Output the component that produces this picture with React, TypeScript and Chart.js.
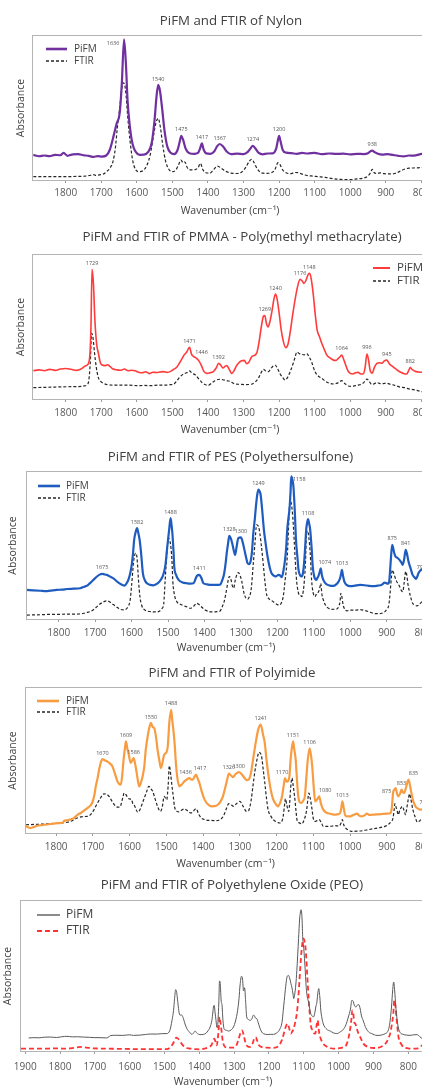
import React, { useEffect, useRef } from "react";
import { Chart, registerables } from "chart.js";

Chart.register(...registerables);

const FONT = "'Open Sans', 'DejaVu Sans', sans-serif";
Chart.defaults.font.family = FONT;

type Pt = [number, number];

// ---------------- DATA (wavenumber cm-1, relative absorbance) ----------------
const ticks1800 = [1800, 1700, 1600, 1500, 1400, 1300, 1200, 1100, 1000, 900, 800];
const ticks1900 = [1900, 1800, 1700, 1600, 1500, 1400, 1300, 1200, 1100, 1000, 900, 800];

// Nylon
const nylonPifm: Pt[] = [
  [1891,17.4],[1875,16.5],[1860,17.0],[1845,16.6],[1830,17.5],[1815,17.2],[1806,18.8],[1795,16.8],[1780,17.8],[1765,17.9],
  [1750,17.2],[1735,16.8],[1722,16.0],[1710,16.6],[1698,16.3],[1686,17.0],[1676,21],[1665,31],[1657,39],[1648,47],
  [1642,68],[1636,97.7],[1631,82],[1626,55],[1620,38],[1612,25],[1603,19.5],[1592,17.5],[1580,17.6],[1568,19.5],
  [1558,26],[1550,42],[1545,57],[1540,66],[1535,62],[1529,50],[1522,34],[1514,23],[1505,19],[1495,18],
  [1486,20.5],[1480,26],[1475,30.6],[1470,28],[1463,22],[1452,18.6],[1438,18.2],[1428,18.8],[1422,22],[1417,25.5],
  [1412,21],[1405,18.5],[1393,18.2],[1382,20],[1374,23.5],[1367,25],[1358,23.5],[1348,20],[1335,18],[1318,18.3],
  [1300,18],[1288,19.5],[1280,22],[1274,23.8],[1267,22],[1258,19],[1246,17.8],[1232,18.4],[1218,18.5],[1208,22],
  [1203,28],[1200,30.6],[1196,27],[1190,21],[1180,19],[1165,18.6],[1150,18.2],[1135,18.8],[1120,18.4],[1100,18.8],
  [1080,18.0],[1060,18.4],[1040,18.1],[1020,18.3],[1000,17.8],[980,18.2],[962,18.0],[950,18.6],[943,20],[938,20.4],
  [932,19.5],[922,18.2],[910,17.6],[895,18],[880,17.4],[865,16.8],[850,16.4],[835,17.0],[820,16.9],[805,17.8],
  [790,18.6],[784,18.8],
];
const nylonFtir: Pt[] = [
  [1891,2.3],[1860,2.3],[1830,2.4],[1800,2.3],[1770,2.5],[1745,2.7],[1730,3.3],[1722,3.8],[1715,3.2],[1705,3.6],
  [1695,4.0],[1685,5.8],[1675,8.5],[1667,13],[1660,23],[1655,36],[1649,48],[1643,62],[1639,67.5],[1635,67],
  [1630,58],[1625,42],[1619,27],[1612,14],[1603,7],[1594,5.8],[1583,6.5],[1572,10],[1562,18],[1553,31],
  [1546,40],[1540,42.8],[1534,37],[1527,24],[1519,13],[1510,7.5],[1500,5.8],[1490,7],[1482,11],[1476,13.9],
  [1470,12],[1465,12.5],[1458,8.5],[1448,7],[1436,7.2],[1428,8.5],[1421,11.6],[1415,7.5],[1405,5.0],[1395,4.7],
  [1385,7],[1373,9.7],[1362,8],[1350,6],[1335,4.8],[1318,4.5],[1305,5.5],[1293,9],[1284,13],[1277,14.4],
  [1270,12],[1262,8],[1250,5],[1235,4.6],[1222,5],[1212,7],[1203,12],[1198,11],[1190,7],[1180,5],
  [1168,4.4],[1155,5.2],[1145,5.0],[1130,3.6],[1110,2.8],[1090,2.3],[1070,1.8],[1050,1.0],[1030,0.5],[1010,0.2],
  [995,0.3],[980,0.8],[965,1.2],[950,2.8],[943,5],[938,7.4],[933,5.2],[925,4.5],[915,5.0],[905,4.4],
  [890,4.2],[875,4.5],[862,5.8],[848,7.5],[835,8.2],[815,8.4],[800,8.7],[784,9],
];
const nylonPeakText = ["1636", "1540", "1475", "1417", "1367", "1274", "1200", "938"];
const nylonPeakAt = [1636, 1540, 1475, 1417, 1367, 1274, 1200, 938];

// PMMA
const pmmaPifm: Pt[] = [
  [1891,19.7],[1875,20.2],[1860,19.6],[1845,20.6],[1830,19.9],[1815,20.8],[1800,21.2],[1785,20.6],[1770,19.9],[1757,20.8],
  [1748,22.5],[1740,23.5],[1733,28],[1729,50],[1726,90],[1722,80],[1718,55],[1713,38],[1708,31.7],[1703,25.5],
  [1698,23.6],[1690,23.2],[1682,23.8],[1675,22.5],[1668,21.0],[1656,20.2],[1645,20.0],[1635,20.8],[1625,19.6],[1615,20.0],
  [1605,19.6],[1595,18.6],[1585,18.2],[1575,18.9],[1565,17.6],[1555,18.6],[1545,18.4],[1535,18.7],[1525,19.0],[1515,18.5],
  [1505,19.2],[1497,20.5],[1488,22],[1480,25],[1474,27.5],[1466,31],[1460,32.5],[1452,35.9],[1446,31],[1440,29.5],
  [1432,28.2],[1424,26],[1418,23],[1411,19],[1403,17.8],[1395,18.2],[1385,19],[1377,21.5],[1370,24.8],[1364,23.5],
  [1358,21.5],[1351,22.8],[1347,23.2],[1340,20.5],[1333,17.8],[1327,19.5],[1320,23],[1313,25.2],[1305,26.5],[1298,26.8],
  [1291,24.5],[1285,25.5],[1277,29.4],[1268,30.5],[1262,32.5],[1256,40],[1250,50],[1244,57.5],[1240,58],[1236,53],
  [1231,50],[1226,53.5],[1220,61],[1214,70],[1210,72.9],[1206,70],[1200,60],[1194,48],[1188,40],[1181,35.6],
  [1175,38],[1169,46],[1162,58],[1155,69],[1148,78],[1141,83.1],[1135,82],[1130,80.3],[1125,82],[1119,86],
  [1115,87.3],[1110,84],[1104,73],[1098,58],[1093,48],[1086,43],[1080,38.7],[1073,34.5],[1066,30.6],[1057,28.5],
  [1047,27],[1040,26.8],[1034,28],[1028,29.5],[1024,30.6],[1019,28],[1013,23.8],[1007,19.8],[1000,17.8],[992,17.4],
  [985,18.3],[978,18.5],[970,17.4],[963,17.6],[958,22],[953,31.3],[949,28],[944,20],[938,18],[932,22],
  [925,24.8],[918,25.2],[911,24.8],[904,26.5],[897,27],[890,24.5],[882,22.8],[875,21.5],[866,19.8],[858,18.6],
  [848,17.6],[841,17.4],[836,19.5],[831,21.8],[826,20.5],[818,19.3],[808,18.8],[798,18.6],[784,18.8],
];
const pmmaFtir: Pt[] = [
  [1891,7.9],[1860,8.1],[1830,8.3],[1800,8.5],[1770,8.6],[1750,9],[1740,10],[1735,13],[1731,25],[1727,45.6],
  [1723,42],[1719,32],[1714,22],[1709,15.5],[1703,12.5],[1694,10.9],[1680,9.8],[1660,9.6],[1640,9.7],[1620,9.6],
  [1600,9.3],[1580,9.4],[1560,9.3],[1540,9.6],[1520,9.6],[1505,10.0],[1497,10.2],[1488,12.5],[1478,15.5],[1468,17.5],
  [1460,18.2],[1452,19.5],[1445,18],[1436,16.8],[1426,14],[1415,11],[1405,9.7],[1399,9.5],[1390,11],[1380,12.7],
  [1367,13.7],[1355,13.2],[1345,12.6],[1338,12.3],[1325,10.5],[1310,10.2],[1295,10.0],[1280,10.2],[1268,11.6],[1258,14.5],
  [1250,18.5],[1244,20.6],[1236,19.3],[1230,19],[1222,21.5],[1211,23.6],[1204,21],[1197,17.4],[1190,15],[1183,13.2],
  [1176,15],[1168,19.5],[1160,25],[1155,29],[1150,32.6],[1143,31.5],[1136,31],[1129,30.7],[1122,31.5],[1116,29.5],
  [1109,26],[1099,19],[1090,16],[1080,14.4],[1070,12.4],[1060,11.1],[1047,10.4],[1036,11],[1030,12],[1024,12.7],
  [1016,11],[1005,9],[995,8.8],[985,9.3],[975,9.8],[965,10.8],[958,12.5],[953,13.9],[947,12.5],[940,10.2],
  [933,10.5],[925,11.4],[918,10.8],[911,10.5],[903,10.9],[897,10.9],[887,10.2],[875,9.5],[860,8.3],[845,7.8],
  [835,7.0],[822,6.5],[810,5.8],[798,5.1],[784,4.6],
];
const pmmaPeakText = ["1729", "1471", "1446", "1392", "1269", "1240", "1176", "1148", "1064", "996", "945", "882"];
const pmmaPeakAt = [1726, 1452, 1432, 1370, 1240, 1210, 1141, 1115, 1024, 953, 897, 831];

// PES
const pesPifm: Pt[] = [
  [1887,19.8],[1870,19.5],[1850,19.2],[1835,19.0],[1823,19.3],[1805,19.8],[1790,20.0],[1777,20.4],[1760,20.6],[1741,20.9],
  [1730,22.0],[1722,22.7],[1715,24.2],[1709,25.5],[1702,27.3],[1695,28.9],[1688,30.2],[1681,30.7],[1675,30.4],[1668,30.0],
  [1660,29],[1649,27.5],[1640,25.5],[1631,23.9],[1620,22.7],[1612,25],[1608,27.3],[1603,32],[1599,38],[1596,45],
  [1593,53.9],[1589,59],[1585,61.8],[1582,59],[1578,53.9],[1574,45],[1569,31],[1563,26],[1558,24.3],[1549,23.2],
  [1540,22.9],[1532,23.7],[1526,24.8],[1519,27],[1512,31],[1507,37],[1503,47],[1500,54],[1497,60.7],[1493,68.6],
  [1490,63],[1488,58],[1485,46],[1483,35.7],[1478,30],[1471,26.6],[1460,24.8],[1448,24.3],[1439,24.1],[1430,24.3],
  [1425,27],[1421,29.3],[1414,30],[1408,27.5],[1403,24.3],[1393,23.6],[1384,23.2],[1370,23.2],[1357,23.4],[1351,26.6],
  [1346,31],[1342,38],[1339,44.8],[1335,52],[1332,56.6],[1328,55],[1324,51.6],[1320,47],[1316,43.6],[1312,49],
  [1307,55],[1300,55.5],[1296,53],[1291,47.7],[1286,42],[1282,38],[1278,37.3],[1275,38],[1270,45],[1266,58.4],
  [1262,68],[1258,78.9],[1255,85],[1252,88],[1249,87],[1246,84.5],[1242,75],[1237,60.7],[1232,51],[1227,42.5],
  [1221,35],[1216,31.1],[1210,29.5],[1206,28.9],[1201,29.5],[1197,30],[1192,29.5],[1188,28.4],[1184,32],[1179,40.2],
  [1176,48],[1173,60.7],[1170,68],[1167,74.3],[1164,86],[1162,97],[1159,95],[1156,90],[1152,72],[1149,53.9],
  [1145,42],[1142,33.4],[1137,29.5],[1133,28.9],[1130,31],[1127,37.3],[1124,48],[1121,60.7],[1118,66],[1116,68],
  [1113,65],[1110,60.7],[1106,48],[1103,35.7],[1099,29],[1093,26.6],[1090,28],[1087,29.5],[1084,32],[1081,34.5],
  [1078,30],[1074,26.6],[1066,23.8],[1056,22.7],[1046,22.5],[1037,23.9],[1032,25.5],[1028,27.7],[1025,31],[1023,33.4],
  [1020,29.5],[1016,25.2],[1010,23.2],[1001,22.3],[990,22.5],[973,23.2],[955,22.8],[937,22.3],[925,22.7],[914,23.2],
  [908,24.5],[905,24.8],[900,24.2],[896,24.1],[893,26],[890,35.7],[888,43],[885,50.5],[882,48],[879,44.5],
  [876,42.5],[870,41.5],[865,40.2],[860,38.5],[856,36.8],[852,41],[848,47],[845,45],[841,40],[839,38],
  [834,34],[829,30],[824,28.4],[820,27.3],[816,29],[813,31.1],[806,33.4],[798,34],[795,34],
];
const pesFtir: Pt[] = [
  [1887,2.7],[1860,2.8],[1830,3.1],[1800,3.2],[1770,3.3],[1745,3.4],[1731,3.9],[1722,4.5],[1712,5.2],[1703,6.6],
  [1695,8.4],[1688,10],[1681,11.1],[1674,12],[1667,12.3],[1660,11.6],[1650,9.8],[1640,8.0],[1631,6.6],[1622,6.2],
  [1612,7.5],[1604,13],[1600,23],[1597,32],[1595,38],[1592,43],[1589,44.8],[1587,44.5],[1584,38],[1581,26],
  [1577,15],[1572,9],[1565,6.4],[1558,5.5],[1545,4.9],[1531,4.8],[1524,5.3],[1517,7.0],[1512,10],[1508,26],
  [1504,42],[1501,52],[1499,55],[1495,53],[1492,48.5],[1489,38],[1487,26],[1482,16],[1476,11.8],[1466,10],
  [1458,9.1],[1448,8.2],[1439,7.3],[1430,8.6],[1421,10.7],[1416,10],[1412,9.1],[1405,7.5],[1398,6.1],[1387,5.0],
  [1375,4.8],[1365,5.0],[1357,5.5],[1352,8],[1347,11],[1343,15.2],[1338,22],[1335,26.5],[1332,28.9],[1328,27.5],
  [1323,22],[1320,21],[1316,26],[1311,30.3],[1307,31.6],[1303,30],[1298,26],[1292,18],[1286,14.1],[1281,13.5],
  [1277,15.2],[1272,20],[1266,38],[1262,50],[1257,64],[1252,63],[1248,58],[1244,50],[1239,38],[1234,25],
  [1229,16.1],[1224,14],[1220,13],[1213,12],[1206,10.7],[1200,9.8],[1194,9.5],[1189,11],[1184,15.2],[1179,26],
  [1174,38],[1170,58],[1167,76.6],[1164,80],[1162,78.9],[1158,70],[1154,54],[1151,40],[1147,25.2],[1143,18.6],
  [1140,16.4],[1137,16.2],[1133,15.2],[1129,19],[1126,26.1],[1123,38],[1120,58.4],[1117,60],[1114,56],[1110,45],
  [1106,26],[1102,18],[1097,15.2],[1092,17.5],[1087,18.6],[1083,22],[1081,24.3],[1078,17],[1074,13],[1067,9],
  [1060,7.3],[1050,6.6],[1037,6.8],[1031,9],[1028,12],[1026,17.5],[1023,15],[1020,10],[1017,7.5],[1009,5.5],
  [1001,6.1],[985,6.1],[973,6.4],[960,5.8],[950,5.0],[937,3.9],[925,3.6],[914,3.9],[905,5.0],[900,6.6],
  [894,10],[889,23],[887,29],[885,33.4],[882,32],[878,29],[874,26.1],[869,24],[865,22.3],[860,19.5],
  [856,18.6],[852,25],[848,32.3],[845,30],[842,24],[839,20],[834,14.5],[829,10.7],[823,9.6],[818,8.9],
  [812,9.5],[806,11.1],[800,12.5],[795,13],
];
const pesPeakText = ["1675", "1582", "1488", "1411", "1328", "1300", "1249", "1158", "1108", "1074", "1013", "875", "841", "795"];
const pesPeakAt = [1681, 1585, 1493, 1414, 1332, 1300, 1252, 1162, 1116, 1081, 1023, 885, 848, 813];

// Polyimide
const piPifm: Pt[] = [
  [1882,4.6],[1870,3.4],[1860,4.2],[1852,5.0],[1835,5.5],[1815,6.2],[1795,6.8],[1784,6.9],[1777,8.5],[1770,8.7],
  [1760,9.5],[1752,10.3],[1742,12.5],[1733,13.8],[1724,15.5],[1715,17.2],[1702,20.7],[1696,26],[1692,32.2],[1687,38],
  [1683,43.7],[1678,49],[1674,51],[1667,50],[1661,49.4],[1654,48],[1647,46],[1640,41],[1633,35.6],[1627,33.5],
  [1624,33.3],[1620,40],[1617,49],[1613,58],[1610,63.2],[1606,58],[1603,55],[1597,48.3],[1593,50],[1589,51.7],
  [1586,49],[1583,45],[1578,37],[1574,32.2],[1569,35],[1565,38.6],[1560,46],[1556,57.5],[1550,68],[1545,74],
  [1542,75.9],[1537,73],[1533,72.4],[1528,66],[1524,57.5],[1519,50],[1515,44.8],[1511,48],[1506,54],[1500,55.5],
  [1496,60],[1492,75.9],[1487,85],[1484,78],[1480,69],[1477,60],[1474,48.3],[1470,38],[1465,32.2],[1458,33.5],
  [1451,35.6],[1444,37],[1437,37.9],[1432,36.8],[1428,36.8],[1423,39],[1419,40.2],[1414,37],[1410,34.5],[1403,28],
  [1396,23],[1387,19.8],[1378,18.4],[1369,18.5],[1360,19.5],[1352,22],[1346,25.3],[1339,32],[1333,38.5],[1330,40.9],
  [1325,40],[1319,38.6],[1312,40.5],[1303,42],[1295,40.5],[1287,37.9],[1281,36.5],[1276,36.8],[1270,41],[1264,50.6],
  [1257,62],[1250,71.3],[1243,74.7],[1237,68],[1232,62],[1228,52],[1223,41.4],[1216,30],[1209,23],[1202,20],
  [1196,18.4],[1190,21],[1185,25.3],[1181,32],[1177,37.9],[1173,35.5],[1170,35.6],[1165,39],[1162,50],[1159,57.5],
  [1155,63.2],[1152,58],[1148,50.6],[1144,35],[1141,25.3],[1136,21],[1132,20.7],[1127,22.5],[1123,25.3],[1119,38],
  [1115,50.6],[1110,58.4],[1106,53],[1103,46],[1099,32],[1095,21.8],[1090,23],[1084,25.3],[1079,20],[1073,16.1],
  [1064,14],[1054,13.3],[1047,12.8],[1041,12.6],[1033,13],[1027,13.8],[1024,17],[1021,21.8],[1017,17],[1013,12.1],
  [1006,11.5],[1000,11.5],[990,12.6],[981,13.3],[975,12],[968,11.5],[960,12.2],[954,13.3],[947,12.4],[940,12.6],
  [925,12.9],[913,13.1],[900,13.3],[890,13.8],[886,18],[883,27.6],[879,30],[876,31],[872,27],[869,25.3],
  [864,27],[860,29.9],[856,28],[853,27.6],[848,31],[844,35],[841,36.8],[837,33],[833,27.6],[828,22],
  [822,18.4],[815,16.8],[808,16.1],[798,17.2],[796,17.5],
];
const piFtir: Pt[] = [
  [1882,5.7],[1860,5.9],[1840,6.1],[1815,6.4],[1790,6.9],[1770,7.4],[1755,8.6],[1743,10.3],[1728,11.3],[1715,11.5],
  [1705,13],[1697,16],[1690,19.5],[1683,22.5],[1676,25.5],[1670,27],[1663,26.8],[1656,25.3],[1648,22],[1638,18.4],
  [1630,17.8],[1626,18],[1621,22],[1617,26],[1615,27.6],[1610,26.5],[1606,24.8],[1601,23.5],[1597,23.4],[1595,23.2],
  [1591,20],[1588,19.5],[1583,16.6],[1578,14.3],[1572,16],[1565,20.7],[1558,25.5],[1553,29],[1548,32.2],[1542,30.5],
  [1537,28.7],[1530,23],[1524,18.4],[1516,14.9],[1511,18],[1506,25.3],[1502,24],[1499,23],[1495,33],[1492,46.4],
  [1488,40],[1485,33],[1481,25],[1478,18.4],[1471,14.9],[1465,14.5],[1458,15.8],[1451,16.6],[1443,15.5],[1433,13.8],
  [1426,15.2],[1419,16.8],[1412,13],[1405,10.3],[1395,9.2],[1385,8.7],[1378,8.7],[1365,8.5],[1351,9.7],[1344,12],
  [1337,16.5],[1330,20.2],[1323,19.3],[1317,18.4],[1310,20],[1300,21.8],[1291,18.4],[1282,14.9],[1276,15.5],[1269,23],
  [1264,33],[1259,42.5],[1253,51],[1248,55.6],[1241,53],[1236,43],[1232,34.5],[1227,23],[1223,16],[1216,11.8],
  [1209,9.2],[1200,7.6],[1191,6.9],[1185,8.5],[1182,11.5],[1178,20],[1176,23.7],[1172,19],[1167,14.9],[1164,22],
  [1162,30],[1158,37.9],[1155,33],[1151,25.3],[1147,15],[1144,8.5],[1138,7],[1132,6.2],[1125,9],[1118,16.1],
  [1115,23],[1112,27.6],[1108,23.5],[1104,17.2],[1100,10],[1095,8.0],[1090,8.5],[1084,9.2],[1078,7],[1073,4.6],
  [1063,4.6],[1054,4.6],[1041,5.1],[1030,4.8],[1024,7],[1021,9.2],[1017,5.5],[1012,3.4],[1004,2.0],[996,1.1],
  [980,1.3],[965,1.6],[950,2.3],[935,3.0],[920,3.7],[905,4.6],[895,6],[888,8],[883,10.3],[880,16],
  [878,20.2],[875,18],[871,14.5],[869,12.6],[864,16],[858,18.4],[853,15.5],[849,12.6],[845,18],[841,24],
  [838,27],[835,24],[829,16.1],[822,10.5],[817,7.4],[810,8.5],[803,10.2],[796,11.3],
];
const piPeakText = ["1670", "1609", "1586", "1550", "1488", "1436", "1417", "1326", "1300", "1241", "1170", "1151", "1106", "1080", "1013", "875", "853", "835", "795"];
const piPeakAt = [1674, 1610, 1589, 1542, 1487, 1437, 1419, 1330, 1303, 1243, 1177, 1155, 1110, 1084, 1021, 876, 860, 841, 798];

// PEO
const peoPifm: Pt[] = [
  [1890,8.7],[1875,8.9],[1860,8.8],[1845,9.2],[1828,9.3],[1810,9.0],[1795,9.5],[1780,9.8],[1765,9.4],[1750,9.5],
  [1733,9.3],[1715,9.1],[1700,8.9],[1685,8.9],[1666,8.7],[1659,9.6],[1656,10.2],[1640,10.5],[1620,10.4],[1600,10.8],
  [1589,10.4],[1570,10.6],[1555,11.0],[1541,11.3],[1520,11.3],[1505,11.6],[1493,11.6],[1485,13.5],[1482,16],[1478,21],
  [1474,27],[1471,35],[1468,40.9],[1465,39],[1462,33],[1459,27],[1457,24.5],[1455,23.8],[1452,24.2],[1447,22.5],
  [1441,18],[1436,15],[1428,12.5],[1421,11.1],[1416,12.2],[1412,13.3],[1408,12.2],[1402,11.1],[1395,10.9],[1388,11.1],
  [1381,11.8],[1374,13.8],[1369,16],[1364,20.4],[1361,26],[1359,30],[1357,30.4],[1355,26],[1352,20.4],[1350,16],
  [1348,15.5],[1346,22],[1344,32],[1342,46.7],[1340,45],[1337,33],[1335,31],[1332,20],[1329,14.9],[1322,13.8],
  [1316,13.3],[1309,14],[1302,16],[1296,20],[1290,27.1],[1286,35],[1283,44],[1279,49.8],[1276,48],[1273,40],
  [1270,42.2],[1267,33],[1264,22.7],[1259,21],[1254,20.4],[1249,21.5],[1245,23.8],[1242,23.6],[1239,22],[1235,21.6],
  [1231,19],[1227,16],[1221,12.7],[1216,11.6],[1205,11.0],[1195,11.1],[1187,11.1],[1178,12],[1168,14.9],[1162,20],
  [1159,27],[1156,33.8],[1152,43],[1148,49.5],[1144,50.4],[1140,48],[1137,45],[1134,42.2],[1131,38],[1129,34.9],
  [1126,38],[1123,44],[1120,53.6],[1115,75],[1112,88],[1110,92],[1108,94.2],[1105,88],[1103,75],[1101,71],
  [1097,58],[1093,42.2],[1090,36],[1087,33.3],[1083,28],[1080,24.9],[1076,23.3],[1072,22.7],[1068,26],[1065,30],
  [1063,31.5],[1060,38],[1057,41.6],[1054,36],[1051,26.7],[1048,22],[1044,18],[1034,14.5],[1024,13.3],[1015,12.1],
  [1005,11.6],[995,12.8],[986,14.5],[979,17.5],[972,22.7],[966,28],[962,33.8],[958,33],[955,30.5],[950,29.3],
  [946,30.7],[942,30.9],[938,28],[935,24],[929,20],[922,15.5],[914,12.7],[905,11.6],[890,10.4],[878,10.6],
  [866,11.6],[859,13],[855,16],[852,20.4],[848,30],[845,40],[842,46],[839,40],[836,30],[833,22.7],
  [829,16],[823,12.2],[815,11.1],[805,10.6],[795,10.4],[785,10.8],[775,10.9],[768,9.8],[760,8.2],
];
const peoFtir: Pt[] = [
  [1912,1.6],[1880,1.6],[1850,1.6],[1810,1.7],[1780,1.6],[1760,2.1],[1742,2.7],[1725,2.3],[1704,1.8],[1680,1.6],
  [1650,1.5],[1620,1.4],[1589,1.3],[1550,1.3],[1520,1.3],[1493,1.3],[1483,2.5],[1479,3.7],[1472,6.5],[1466,8.9],
  [1460,8.0],[1454,6.0],[1446,3.5],[1436,2.0],[1426,1.6],[1410,1.2],[1398,1.1],[1385,1.6],[1372,2.6],[1365,4],
  [1359,7.5],[1357,8.2],[1354,6.5],[1350,3.7],[1347,8],[1344,16],[1342,22.7],[1340,20],[1337,15.1],[1333,7],
  [1326,2.7],[1315,2.2],[1302,2.2],[1294,3.5],[1288,7.3],[1282,12],[1277,13.8],[1273,11],[1268,6],[1262,3.2],
  [1254,2.7],[1247,5],[1242,8.5],[1238,9.3],[1234,7],[1229,4],[1222,2.7],[1206,2.2],[1190,2.1],[1182,2.2],
  [1172,3.5],[1163,7.3],[1158,11],[1152,16],[1147,18.2],[1143,16],[1137,11.6],[1133,13],[1129,14.9],[1124,20],
  [1120,25],[1116,35],[1113,45],[1110,56],[1106,68],[1102,74.5],[1100,74.9],[1097,72],[1094,66],[1090,50],
  [1086,35],[1083,25.1],[1079,16],[1074,13.8],[1070,11.6],[1067,11.6],[1064,16],[1060,20.4],[1057,14],[1053,9.3],
  [1046,5.5],[1039,3.7],[1027,2.2],[1014,1.6],[1000,1.8],[986,2.6],[978,4],[972,8.2],[966,16],[963,22],
  [961,27.1],[958,25],[955,19],[952,18.2],[948,15],[943,11.6],[936,8.2],[929,4.9],[915,2.6],[900,2.0],
  [885,2.2],[871,3.7],[862,6],[856,9],[852,11.6],[847,18],[843,25],[840,33.8],[837,30],[833,20],
  [828,9.3],[820,4.5],[814,2.7],[800,1.8],[785,1.6],[772,1.8],[760,3.8],[752,4.5],
];

// ---------------- PANELS (layout in page pixels) ----------------
type Legend = { x: number; y: number; len: number; textDx: number; rowH: number; size: number };
type Panel = {
  title: string; pifm: Pt[]; ftir: Pt[];
  pifmColor: string; pifmWidth: number; ftirColor: string; ftirWidth: number; ftirDash: number[];
  xMin: number; xMax: number; ticks: number[];
  top: number; w: number; h: number; titleGap: number; plotLeft: number; rightPad: number;
  xAxisH: number; tickPad: number; yTitlePad: number;
  legend: Legend; peakText: string[]; peakAt: number[]; nudge: Record<string, [number, number]>;
};

const PANELS: Panel[] = [
  {
    title: "PiFM and FTIR of Nylon", pifm: nylonPifm, ftir: nylonFtir,
    pifmColor: "#7030a0", pifmWidth: 2.2, ftirColor: "#262626", ftirWidth: 1.2, ftirDash: [3, 2],
    xMin: 784, xMax: 1892, ticks: ticks1800,
    top: 9, w: 462, h: 211, titleGap: 7, plotLeft: 33, rightPad: 35, xAxisH: 40, tickPad: 4, yTitlePad: 14.5,
    legend: { x: 13, y: 13, len: 21, textDx: 28, rowH: 12, size: 10 },
    peakText: nylonPeakText, peakAt: nylonPeakAt, nudge: { "1636": [-11, 10] },
  },
  {
    title: "PiFM and FTIR of PMMA - Poly(methyl methacrylate)", pifm: pmmaPifm, ftir: pmmaFtir,
    pifmColor: "#ff3b3b", pifmWidth: 1.6, ftirColor: "#262626", ftirWidth: 1.2, ftirDash: [3, 2],
    xMin: 784, xMax: 1892, ticks: ticks1800,
    top: 225, w: 484, h: 214, titleGap: 10, plotLeft: 33, rightPad: 57, xAxisH: 40, tickPad: 5, yTitlePad: 14.5,
    legend: { x: 340, y: 13, len: 17, textDx: 24, rowH: 13, size: 11.5 },
    peakText: pmmaPeakText, peakAt: pmmaPeakAt, nudge: { "1446": [5, 0] },
  },
  {
    title: "PiFM and FTIR of PES (Polyethersulfone)", pifm: pesPifm, ftir: pesFtir,
    pifmColor: "#1f5cbf", pifmWidth: 2.2, ftirColor: "#262626", ftirWidth: 1.2, ftirDash: [3, 2],
    xMin: 795, xMax: 1887, ticks: ticks1800,
    top: 445, w: 461, h: 212, titleGap: 7, plotLeft: 27, rightPad: 36, xAxisH: 38, tickPad: 5, yTitlePad: 6.5,
    legend: { x: 11, y: 14, len: 22, textDx: 28, rowH: 12, size: 10 },
    peakText: pesPeakText, peakAt: pesPeakAt, nudge: { "1158": [8, 9], "1074": [4, 0], "795": [3, 0] },
  },
  {
    title: "PiFM and FTIR of Polyimide", pifm: piPifm, ftir: piFtir,
    pifmColor: "#f89c42", pifmWidth: 2.2, ftirColor: "#262626", ftirWidth: 1.2, ftirDash: [3, 2],
    xMin: 796, xMax: 1882, ticks: ticks1800,
    top: 661, w: 464, h: 212, titleGap: 7, plotLeft: 26, rightPad: 39, xAxisH: 40, tickPad: 5, yTitlePad: 6.5,
    legend: { x: 11, y: 13, len: 22, textDx: 29, rowH: 11, size: 10 },
    peakText: piPeakText, peakAt: piPeakAt,
    nudge: { "1436": [-4, 0], "1417": [4, 0], "1170": [-3, 0], "1080": [6, 0], "875": [-9, 9], "835": [5, 0] },
  },
  {
    title: "PiFM and FTIR of Polyethylene Oxide (PEO)", pifm: peoPifm, ftir: peoFtir,
    pifmColor: "#595959", pifmWidth: 1, ftirColor: "#ff3333", ftirWidth: 1.8, ftirDash: [5, 3],
    xMin: 752, xMax: 1912, ticks: ticks1900,
    top: 873, w: 464, h: 218, titleGap: 8, plotLeft: 21, rightPad: 39, xAxisH: 40, tickPad: 7, yTitlePad: 2,
    legend: { x: 16, y: 14, len: 23, textDx: 29, rowH: 16, size: 12 },
    peakText: [], peakAt: [], nudge: {},
  },
];

const TEXT = "#404040";

function boxPlugin() {
  return {
    id: "plotBox",
    beforeDatasetsDraw(chart: any) {
      const { ctx, chartArea: a } = chart;
      ctx.save();
      ctx.strokeStyle = "#b4b4b4";
      ctx.lineWidth = 1;
      ctx.strokeRect(Math.round(a.left) - 0.5, Math.round(a.top) - 0.5, Math.round(a.right - a.left) + 1, Math.round(a.bottom - a.top) + 1);
      ctx.restore();
    },
  };
}

function legendPlugin(cfg: Legend) {
  return {
    id: "lineLegend",
    afterDatasetsDraw(chart: any) {
      const { ctx, chartArea: a } = chart;
      chart.data.datasets.forEach((ds: any, i: number) => {
        const y = a.top + cfg.y + i * cfg.rowH;
        const x0 = a.left + cfg.x;
        ctx.save();
        ctx.strokeStyle = ds.borderColor;
        ctx.lineWidth = ds.borderWidth + (i === 0 ? 0.4 : 0.2);
        ctx.setLineDash(ds.borderDash || []);
        ctx.beginPath();
        ctx.moveTo(x0, y);
        ctx.lineTo(x0 + cfg.len, y);
        ctx.stroke();
        ctx.setLineDash([]);
        ctx.fillStyle = TEXT;
        ctx.font = `${cfg.size}px ${FONT}`;
        ctx.textBaseline = "middle";
        ctx.textAlign = "left";
        ctx.fillText(ds.label, x0 + cfg.textDx, y);
        ctx.restore();
      });
    },
  };
}

function peakPlugin(texts: string[], at: number[], nudge: Record<string, [number, number]>) {
  return {
    id: "peakLabels",
    afterDatasetsDraw(chart: any) {
      const { ctx } = chart;
      const xs = chart.scales.x;
      const ys = chart.scales.y;
      const data = chart.data.datasets[0].data as { x: number; y: number }[];
      ctx.save();
      ctx.font = `5.5px ${FONT}`;
      ctx.fillStyle = "#555";
      ctx.textAlign = "center";
      ctx.textBaseline = "middle";
      texts.forEach((t, i) => {
        let best = data[0];
        for (const p of data) if (Math.abs(p.x - at[i]) < Math.abs(best.x - at[i])) best = p;
        const [dx, dy] = nudge[t] || [0, 0];
        const px = xs.getPixelForValue(at[i]) + dx;
        const py = ys.getPixelForValue(best.y) - 6 + dy;
        ctx.fillText(t, px, py);
      });
      ctx.restore();
    },
  };
}

function buildConfig(p: Panel): any {
  const toXY = (arr: Pt[]) => arr.map(([x, y]) => ({ x, y }));
  return {
    type: "line",
    data: {
      datasets: [
        { label: "PiFM", data: toXY(p.pifm), borderColor: p.pifmColor, borderWidth: p.pifmWidth, pointRadius: 0, cubicInterpolationMode: "monotone", fill: false },
        { label: "FTIR", data: toXY(p.ftir), borderColor: p.ftirColor, borderWidth: p.ftirWidth, borderDash: p.ftirDash, pointRadius: 0, cubicInterpolationMode: "monotone", fill: false },
      ],
    },
    options: {
      animation: false,
      responsive: false,
      devicePixelRatio: 1,
      layout: { padding: 0 },
      events: [],
      plugins: {
        legend: { display: false },
        tooltip: { enabled: false },
        title: {
          display: true, text: p.title, color: TEXT,
          font: { family: FONT, size: 13.3, lineHeight: "16px", weight: "normal" },
          padding: { top: 4, bottom: p.titleGap },
        },
      },
      scales: {
        x: {
          type: "linear", position: "bottom", reverse: true, min: p.xMin, max: p.xMax,
          afterBuildTicks: (s: any) => { s.ticks = p.ticks.map((v) => ({ value: v })); },
          afterFit: (s: any) => { s.height = p.xAxisH; },
          ticks: { color: "#595959", font: { family: FONT, size: 10, lineHeight: "12px" }, padding: p.tickPad, maxRotation: 0, autoSkip: false, callback: (v: any) => String(v) },
          grid: { display: true, drawOnChartArea: false, drawTicks: true, tickLength: 3, color: "#9a9a9a" },
          border: { display: false },
          title: { display: true, text: "Wavenumber (cm⁻¹)", color: TEXT, font: { family: FONT, size: 10.5, lineHeight: "13px" }, padding: { top: 0, bottom: 2 } },
        },
        y: {
          type: "linear", position: "left", min: 0, max: 100,
          ticks: { display: false }, grid: { display: false }, border: { display: false },
          afterFit: (s: any) => { s.width = p.plotLeft; },
          title: { display: true, text: "Absorbance", color: TEXT, font: { family: FONT, size: 10.5, lineHeight: "13px" }, padding: { top: p.yTitlePad, bottom: 0 } },
        },
        yr: {
          type: "linear", position: "right", display: true,
          ticks: { display: false }, grid: { display: false }, border: { display: false },
          afterFit: (s: any) => { s.width = p.rightPad; },
        },
      },
    },
    plugins: [boxPlugin(), legendPlugin(p.legend), peakPlugin(p.peakText, p.peakAt, p.nudge)],
  };
}

export default function App() {
  const refs = useRef<(HTMLCanvasElement | null)[]>([]);
  useEffect(() => {
    const charts = PANELS.map((p, i) => new Chart(refs.current[i] as HTMLCanvasElement, buildConfig(p)));
    return () => charts.forEach((c) => c.destroy());
  }, []);
  return (
    <div style={{ position: "absolute", left: 0, top: 0, width: 422, height: 1088, overflow: "hidden", background: "#fff" }}>
      {PANELS.map((p, i) => (
        <canvas
          key={i}
          ref={(el) => { refs.current[i] = el; }}
          width={p.w}
          height={p.h}
          style={{ position: "absolute", left: 0, top: p.top, width: p.w, height: p.h, display: "block" }}
        />
      ))}
    </div>
  );
}
